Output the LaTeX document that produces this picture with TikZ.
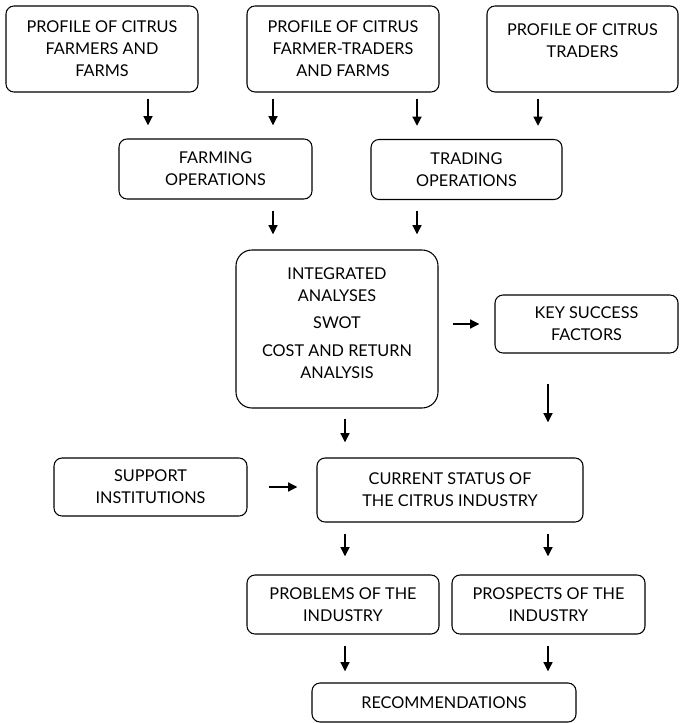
\documentclass[tikz,border=0pt]{standalone}
\usepackage{fontspec}
\setmainfont{Lato}
\usetikzlibrary{arrows.meta}

\newdimen\px \px=0.75pt

\tikzset{
  box/.style={draw, line width=0.8pt, rounded corners=8\px, align=center,
    inner sep=0pt, font=\fontsize{12.2}{16.5}\selectfont},
  arr/.style={line width=2pt, -{Triangle[length=7pt,width=6.5pt]},
    shorten <=11\px, shorten >=15\px},
}

\begin{document}
\begin{tikzpicture}[x=0.75pt, y=-0.75pt]
  \useasboundingbox (0,0) rectangle (685,723);

  % profiles
  \node[box, minimum width=192\px, minimum height=86\px, text depth=-3pt] (farmers) at (102,49)
    {PROFILE OF CITRUS\\FARMERS AND\\FARMS};
  \node[box, minimum width=192\px, minimum height=86\px, text depth=-3pt] (fartrad) at (343,49)
    {PROFILE OF CITRUS\\FARMER-TRADERS\\AND FARMS};
  \node[box, minimum width=191\px, minimum height=86\px, text depth=12.5pt] (traders) at (582.5,49)
    {PROFILE OF CITRUS\\TRADERS};

  % operations
  \node[box, minimum width=193\px, minimum height=60\px] (farming) at (215.5,169)
    {FARMING\\OPERATIONS};
  \node[box, minimum width=191\px, minimum height=60\px] (trading) at (466.5,169.5)
    {TRADING\\OPERATIONS};

  % analyses
  \node[box, rounded corners=16\px, minimum width=202\px, minimum height=158\px, text depth=9pt] (integ) at (337,329)
    {INTEGRATED\\ANALYSES\\[4pt]SWOT\\[4pt]COST AND RETURN\\ANALYSIS};
  \node[box, minimum width=183\px, minimum height=58\px] (key) at (586.5,324)
    {KEY SUCCESS\\FACTORS};

  \node[box, minimum width=193\px, minimum height=58\px] (support) at (150.5,487)
    {SUPPORT\\INSTITUTIONS};
  \node[box, minimum width=266\px, minimum height=64\px] (current) at (450,490)
    {CURRENT STATUS OF\\THE CITRUS INDUSTRY};

  \node[box, minimum width=192\px, minimum height=59\px] (problems) at (343,604.5)
    {PROBLEMS OF THE\\INDUSTRY};
  \node[box, minimum width=193\px, minimum height=59\px] (prospects) at (548.5,604.5)
    {PROSPECTS OF THE\\INDUSTRY};
  \node[box, minimum width=264\px, minimum height=39\px] (recomm) at (444,702.5)
    {RECOMMENDATIONS};

  % arrow columns
  \coordinate (c1) at (148,0);
  \coordinate (c2) at (273,0);
  \coordinate (c3) at (417,0);
  \coordinate (c4) at (538,0);
  \coordinate (c5) at (345,0);
  \coordinate (c6) at (548,0);

  \draw[arr, shorten <=6\px, shorten >=13\px] (farmers.south -| c1) -- (farming.north -| c1);
  \draw[arr, shorten <=6\px, shorten >=13\px] (fartrad.south -| c2) -- (farming.north -| c2);
  \draw[arr, shorten <=6\px, shorten >=13\px] (fartrad.south -| c3) -- (trading.north -| c3);
  \draw[arr, shorten <=6\px, shorten >=13\px] (traders.south -| c4) -- (trading.north -| c4);

  \draw[arr] (farming.south -| c2) -- (integ.north -| c2);
  \draw[arr] (trading.south -| c3) -- (integ.north -| c3);

  \draw[arr, shorten <=14\px] (integ.east |- key) -- (key.west);
  \draw[arr, shorten <=10\px] (integ.south -| c5) -- (current.north -| c5);
  \draw[arr, shorten <=30\px, shorten >=35\px] (key.south -| c6) -- (current.north -| c6);
  \draw[arr, shorten <=21\px, shorten >=19\px] (support.east) -- (current.west |- support.east);

  \draw[arr, shorten >=18\px] (current.south -| c5) -- (problems.north -| c5);
  \draw[arr, shorten >=18\px] (current.south -| c6) -- (prospects.north -| c6);

  \draw[arr, shorten >=11\px] (problems.south -| c5) -- (recomm.north -| c5);
  \draw[arr, shorten >=11\px] (prospects.south -| c6) -- (recomm.north -| c6);
\end{tikzpicture}
\end{document}
